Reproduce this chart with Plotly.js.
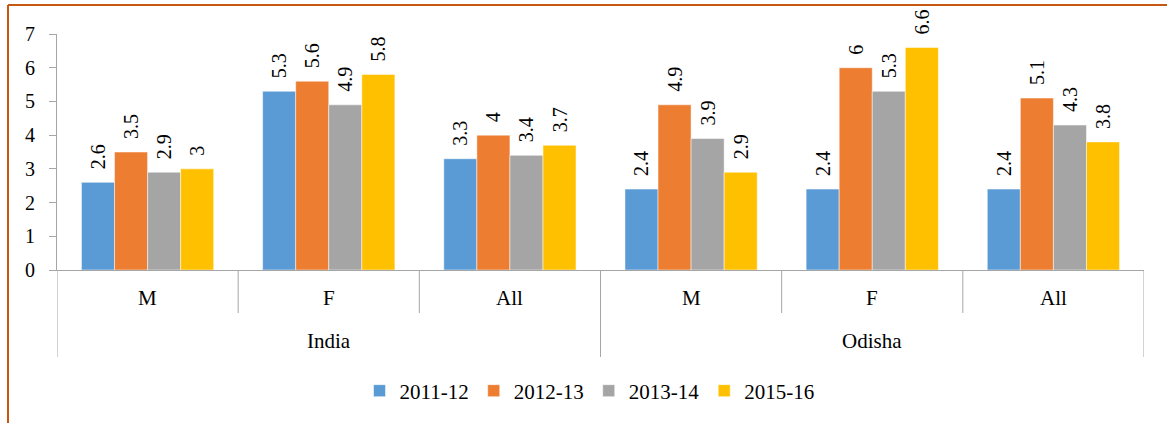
<!DOCTYPE html>
<html>
<head>
<meta charset="utf-8">
<script src="https://cdn.plot.ly/plotly-3.0.1.min.js"></script>
<style>html,body{margin:0;padding:0;background:#fff;}#chart{width:1167px;height:423px;}</style>
</head>
<body>
<div id="chart"></div>
<script>
// ---- data ----
var regions = ['India', 'Odisha'];
var subcats = ['M', 'F', 'All'];
var seriesNames = ['2011-12', '2012-13', '2013-14', '2015-16'];
var seriesColors = ['#5b9bd5', '#ed7d31', '#a5a5a5', '#ffc000'];
var v2011 = [2.6, 5.3, 3.3, 2.4, 2.4, 2.4];
var v2012 = [3.5, 5.6, 4.0, 4.9, 6.0, 5.1];
var v2013 = [2.9, 4.9, 3.4, 3.9, 5.3, 4.3];
var v2015 = [3.0, 5.8, 3.7, 2.9, 6.6, 3.8];
var seriesValues = [v2011, v2012, v2013, v2015];

// ---- build ----
var nCat = regions.length * subcats.length;
var xs = [];
for (var i = 0; i < nCat; i++) xs.push(i);

var serif = 'Liberation Serif, DejaVu Serif, serif';
var pad = '\u00a0\u00a0';

var traces = seriesNames.map(function (name, s) {
  return {
    type: 'bar',
    name: name,
    x: xs,
    y: seriesValues[s],
    marker: { color: seriesColors[s], line: { color: '#ffffff', width: 0.5 } },
    text: seriesValues[s].map(function (v) { return pad + v; }),
    textposition: 'outside',
    textangle: -90,
    constraintext: 'none',
    cliponaxis: false,
    textfont: { family: serif, size: 20, color: '#000' },
    hoverinfo: 'skip'
  };
});

var plotH = 423 - 34 - 153;
function py(px) { return (270 - px) / plotH; }

var annotations = [];
var shapes = [];
var grey = '#a6a6a6';
for (var g = 0; g < regions.length; g++) {
  for (var c = 0; c < subcats.length; c++) {
    var idx = g * subcats.length + c;
    annotations.push({
      x: idx, xref: 'x', y: py(298), yref: 'paper', text: subcats[c],
      showarrow: false, xanchor: 'center', yanchor: 'middle',
      font: { family: serif, size: 21, color: '#000' }
    });
  }
  annotations.push({
    x: g * subcats.length + (subcats.length - 1) / 2, xref: 'x', y: py(341), yref: 'paper',
    text: regions[g], showarrow: false, xanchor: 'center', yanchor: 'middle',
    font: { family: serif, size: 21, color: '#000' }
  });
}
for (var k = 0; k <= nCat; k++) {
  var outer = (k % subcats.length === 0);
  shapes.push({
    type: 'line', xref: 'x', yref: 'paper', x0: k - 0.5, x1: k - 0.5,
    y0: 0, y1: outer ? py(357) : py(313), line: { color: grey, width: 1 }
  });
}
// orange frame (page border)
var plotW = 1167 - 57 - 23;
var bx = (8 - 57) / plotW;
shapes.push({ type: 'line', xref: 'paper', yref: 'paper', x0: bx, x1: bx, y0: py(5), y1: py(430), line: { color: '#c65911', width: 2 } });
shapes.push({ type: 'line', xref: 'paper', yref: 'paper', x0: bx, x1: (1170 - 57) / plotW, y0: py(5), y1: py(5), line: { color: '#c65911', width: 2 } });

var layout = {
  width: 1167, height: 423,
  margin: { l: 57, r: 23, t: 34, b: 153 },
  paper_bgcolor: '#fff', plot_bgcolor: '#fff',
  font: { family: serif },
  barmode: 'group', bargap: 0.27, bargroupgap: 0,
  showlegend: true,
  legend: {
    orientation: 'h', x: 0.5 - 11 / plotW, xanchor: 'center', y: py(391), yanchor: 'middle',
    font: { family: serif, size: 21, color: '#000' }, traceorder: 'normal',
    itemwidth: 30
  },
  xaxis: {
    range: [-0.5, nCat - 0.5], showline: true, linecolor: grey, linewidth: 1,
    showgrid: false, zeroline: false, showticklabels: false, ticks: '', fixedrange: true
  },
  yaxis: {
    range: [0, 7], dtick: 1, tick0: 0, showline: true, linecolor: grey, linewidth: 1,
    ticks: 'outside', ticklen: 7, tickcolor: grey, showgrid: false, zeroline: false,
    ticklabelstandoff: 10,
    tickfont: { family: serif, size: 20, color: '#000' }, fixedrange: true
  },
  annotations: annotations,
  shapes: shapes
};

Plotly.newPlot('chart', traces, layout, { displayModeBar: false, staticPlot: true });
</script>
</body>
</html>
